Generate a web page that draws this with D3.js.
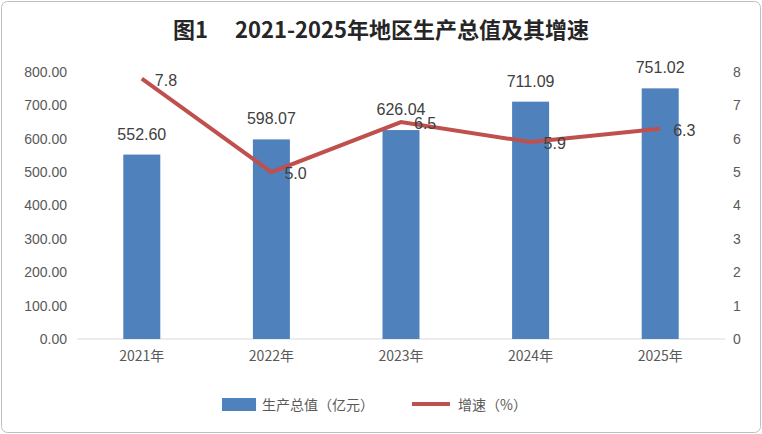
<!doctype html>
<html lang="zh">
<head>
<meta charset="utf-8">
<script src="https://cdn.jsdelivr.net/npm/d3@7"></script>
<style>
body { margin: 0; background: #fff; font-family: "Noto Sans CJK SC", "Noto Sans", sans-serif; }
</style>
</head>
<body>
<svg id="chart" width="762" height="434"></svg>
<script>
var years = ["2021年", "2022年", "2023年", "2024年", "2025年"];
var gdp = [552.60, 598.07, 626.04, 711.09, 751.02];
var growth = [7.8, 5.0, 6.5, 5.9, 6.3];
var leftTicks = [0, 100, 200, 300, 400, 500, 600, 700, 800];
var rightTicks = [0, 1, 2, 3, 4, 5, 6, 7, 8];

var svg = d3.select("#chart");
svg.append("rect").attr("x", 1.5).attr("y", 1.5).attr("width", 759).attr("height", 431)
    .attr("rx", 6).attr("fill", "#fff").attr("stroke", "#bfbfbf");

svg.append("text").attr("x", 381).attr("y", 38).attr("text-anchor", "middle")
    .attr("font-size", 22).attr("font-weight", "bold").attr("fill", "#262626")
    .text("图1\u3000 2021-2025年地区生产总值及其增速");

var x = d3.scaleBand().domain(years).range([77, 725]);
var yL = d3.scaleLinear().domain([0, 800]).range([339, 72]);
var yR = d3.scaleLinear().domain([0, 8]).range([339, 72]);

svg.append("line").attr("x1", 77).attr("x2", 725).attr("y1", 339).attr("y2", 339).attr("stroke", "#d9d9d9");

var tickStyle = function(g) {
    g.select(".domain").remove();
    g.selectAll(".tick line").remove();
    g.selectAll("text").attr("fill", "#595959").attr("font-size", 14)
        .attr("font-family", "Liberation Sans, Arial, sans-serif");
};
svg.append("g").attr("transform", "translate(70,0)")
    .call(d3.axisLeft(yL).tickValues(leftTicks).tickFormat(d3.format(".2f")).tickSize(0)).call(tickStyle);
svg.append("g").attr("transform", "translate(730,0)")
    .call(d3.axisRight(yR).tickValues(rightTicks).tickSize(0)).call(tickStyle);
svg.append("g").attr("transform", "translate(0,348)")
    .call(d3.axisBottom(x).tickSize(0)).call(tickStyle)
    .selectAll("text").attr("font-family", "Noto Sans CJK SC, sans-serif");

var bw = 37;
svg.selectAll(".bar").data(gdp).enter().append("rect")
    .attr("x", function(d, i) { return x(years[i]) + x.bandwidth() / 2 - bw / 2; })
    .attr("y", function(d) { return yL(d); })
    .attr("width", bw).attr("height", function(d) { return 339 - yL(d); })
    .attr("fill", "#4F81BD");
svg.selectAll(".bl").data(gdp).enter().append("text")
    .attr("x", function(d, i) { return x(years[i]) + x.bandwidth() / 2; })
    .attr("y", function(d) { return yL(d) - 15; })
    .attr("text-anchor", "middle").attr("font-size", 16).attr("fill", "#404040")
    .attr("font-family", "Liberation Sans, Arial, sans-serif")
    .text(function(d) { return d.toFixed(2); });

var line = d3.line()
    .x(function(d, i) { return x(years[i]) + x.bandwidth() / 2; })
    .y(function(d) { return yR(d); });
svg.append("path").datum(growth).attr("d", line).attr("fill", "none")
    .attr("stroke", "#C0504D").attr("stroke-width", 4);
svg.selectAll(".gl").data(growth).enter().append("text")
    .attr("x", function(d, i) { return x(years[i]) + x.bandwidth() / 2 + 13; })
    .attr("y", function(d) { return yR(d) + 7; })
    .attr("font-size", 16).attr("fill", "#404040")
    .attr("font-family", "Liberation Sans, Arial, sans-serif")
    .text(function(d) { return d.toFixed(1); });

var lg = svg.append("g");
lg.append("rect").attr("x", 222).attr("y", 398).attr("width", 34).attr("height", 13).attr("fill", "#4F81BD");
lg.append("text").attr("x", 262).attr("y", 410).attr("font-size", 14).attr("fill", "#595959").text("生产总值（亿元）");
lg.append("line").attr("x1", 412).attr("x2", 450).attr("y1", 404).attr("y2", 404)
    .attr("stroke", "#C0504D").attr("stroke-width", 4);
lg.append("text").attr("x", 458).attr("y", 410).attr("font-size", 14).attr("fill", "#595959").text("增速（%）");
</script>
</body>
</html>
